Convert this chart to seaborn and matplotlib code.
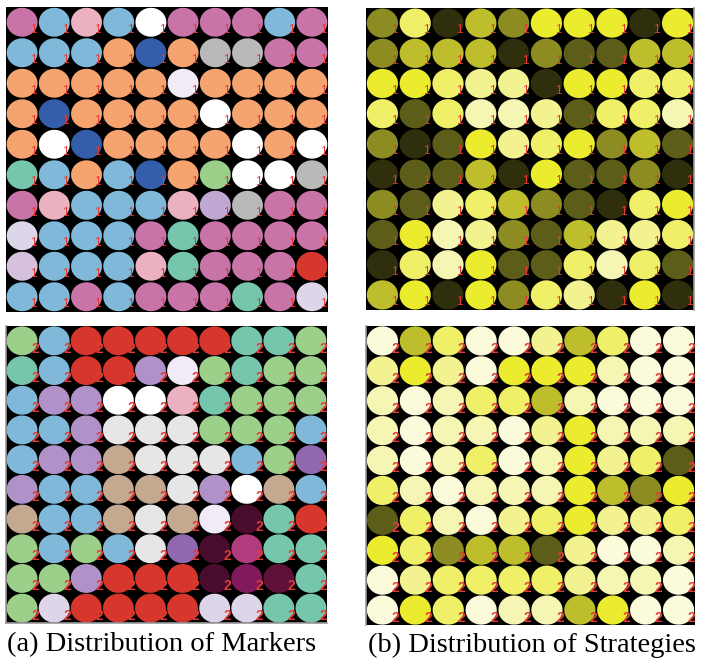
import numpy as np
import pandas as pd
import matplotlib
matplotlib.use("Agg")
import matplotlib.pyplot as plt
import seaborn as sns
from matplotlib.path import Path

# ---- marker grids (one letter per agent, rows top to bottom) ----
markers_round1 = [
    "MBPBWMMMBM",
    "BBBODOGGMM",
    "OOOOOLOOOO",
    "ODOOOOWOOO",
    "OWDOOOOWOW",
    "TBOBDONWWG",
    "MPBBBPVGMM",
    "XBBBMTMMMM",
    "YBBBPTMMMR",
    "BBMBMMMTMX",
]
markers_round2 = [
    "NBRRRRRTTN",
    "TBRRULNTNN",
    "BUUWWPTNNN",
    "BBUEEENNNB",
    "BUUKEEEBNQ",
    "UBBKKEUWKB",
    "KBBKEKLZTR",
    "NBNBEQZHTT",
    "NNURRRZJST",
    "NXRRRRXXTT",
]
marker_colors = {
    "M": "#c974a8", "B": "#7fb8d9", "P": "#ecb1c0", "W": "#ffffff",
    "D": "#345ea9", "O": "#f5a470", "G": "#b9b9b9", "L": "#f0ebf6",
    "T": "#76c6ae", "N": "#9ccf8a", "V": "#bfa9d3", "X": "#ddd6e8",
    "Y": "#d5c0dd", "R": "#d7362c", "U": "#b091c8", "E": "#e6e6e6",
    "K": "#c5a890", "Q": "#8f68b0", "Z": "#4a0c2c", "H": "#b03b7e",
    "J": "#82195c", "S": "#5f1139",
}

# ---- strategy levels (0 = darkest, 8 = palest) ----
strategies_round1 = [
    [2, 5, 0, 3, 2, 4, 4, 4, 0, 4],
    [2, 3, 3, 3, 0, 2, 1, 1, 3, 3],
    [4, 4, 5, 6, 6, 0, 4, 4, 5, 5],
    [5, 1, 5, 7, 7, 6, 1, 5, 5, 7],
    [2, 0, 1, 4, 6, 5, 4, 2, 3, 1],
    [0, 1, 1, 3, 0, 4, 1, 1, 2, 0],
    [2, 1, 6, 5, 3, 2, 1, 0, 5, 4],
    [1, 4, 7, 6, 2, 1, 3, 6, 6, 5],
    [0, 5, 7, 4, 1, 1, 5, 7, 5, 1],
    [3, 4, 0, 4, 2, 5, 6, 0, 4, 0],
]
strategies_round2 = [
    [8, 3, 5, 8, 8, 6, 3, 5, 8, 8],
    [6, 4, 6, 8, 4, 4, 4, 7, 8, 8],
    [7, 8, 7, 5, 5, 3, 7, 8, 8, 8],
    [7, 8, 7, 7, 8, 6, 4, 7, 7, 7],
    [7, 8, 7, 5, 8, 7, 4, 6, 5, 1],
    [5, 7, 8, 7, 7, 7, 4, 3, 2, 4],
    [1, 5, 7, 8, 6, 5, 4, 6, 6, 5],
    [4, 5, 2, 3, 3, 1, 6, 8, 8, 7],
    [8, 6, 5, 5, 5, 5, 6, 7, 7, 8],
    [8, 4, 5, 8, 7, 7, 3, 4, 8, 8],
]
strategy_colors = ["#2f2f0d", "#5d5d1a", "#8c8c23", "#bebe2d", "#ecec2f",
                   "#efef68", "#f2f290", "#f6f6b4", "#fbfbdc"]

captions = ["(a) Distribution of Markers", "(b) Distribution of Strategies"]
round_labels = ["1", "2"]

W, H = 704, 663
fig = plt.figure(figsize=(W / 100, H / 100), dpi=100)

# slightly flattened disc used for every agent
theta = np.linspace(0, 2 * np.pi, 73)
disc = Path(np.column_stack([np.cos(theta), 0.935 * np.sin(theta)]), closed=True)


def frame(l, t, r, b):
    return [l / W, 1 - b / H, (r - l) / W, (b - t) / H]


def grid_frame(values):
    rows = []
    for r, line in enumerate(values):
        for c, v in enumerate(line):
            rows.append({"col": c, "row": r, "kind": str(v)})
    return pd.DataFrame(rows)


def draw(ax, values, palette, label, size, fs, dx, dy, bold, spines):
    df = grid_frame(values)
    ax.set_facecolor("black")
    sns.scatterplot(data=df, x="col", y="row", hue="kind", palette=palette,
                    marker=disc, s=size, linewidth=0, legend=False, ax=ax)
    for _, rec in df.iterrows():
        ax.text(rec["col"] + dx, rec["row"] + dy, label, color="#e23b36",
                fontsize=fs, fontweight="bold" if bold else "normal",
                ha="center", va="center", family="Liberation Sans")
    ax.set_xlim(-0.5, 9.5)
    ax.set_ylim(9.5, -0.5)
    ax.set_xticks([])
    ax.set_yticks([])
    ax.set_xlabel("")
    ax.set_ylabel("")
    for name, sp in ax.spines.items():
        if name in spines:
            sp.set_color("#9a9a9a")
            sp.set_linewidth(1.2)
        else:
            sp.set_visible(False)


strategy_palette = {str(i): c for i, c in enumerate(strategy_colors)}

ax1 = fig.add_axes(frame(6, 7, 328, 312))
draw(ax1, markers_round1, marker_colors, round_labels[0], 495, 8.5, 0.35, 0.24, False, [])

ax2 = fig.add_axes(frame(366, 8, 694, 310))
draw(ax2, strategies_round1, strategy_palette, round_labels[0], 505, 8.5, 0.35, 0.24, False, ["right"])

ax3 = fig.add_axes(frame(6, 326, 327, 623))
draw(ax3, markers_round2, marker_colors, round_labels[1], 495, 10, 0.4, 0.26, True, ["left", "bottom"])

ax4 = fig.add_axes(frame(366, 326, 695, 625))
draw(ax4, strategies_round2, strategy_palette, round_labels[1], 505, 10, 0.4, 0.26, True, ["left"])

fig.text(162 / W, 1 - 645 / H, captions[0], ha="center", va="center",
         family="Liberation Serif", fontsize=20.5)
fig.text(532 / W, 1 - 645 / H, captions[1], ha="center", va="center",
         family="Liberation Serif", fontsize=20.5)

fig.savefig("out.png", dpi=100, facecolor="white")
